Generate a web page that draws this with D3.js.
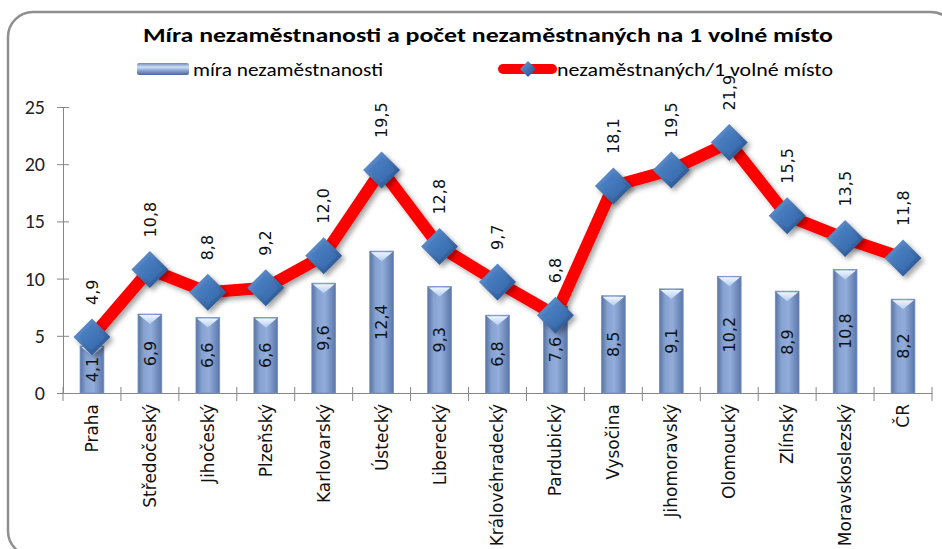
<!DOCTYPE html>
<html>
<head>
<meta charset="utf-8">
<script src="https://cdn.jsdelivr.net/npm/d3@7"></script>
<style>
    body { margin: 0; background: #fff; }
    #chart { width: 942px; height: 549px; }
</style>
</head>
<body>
<div id="chart"></div>
<script>
// data
let regions = ["Praha", "Středočeský", "Jihočeský", "Plzeňský", "Karlovarský", "Ústecký", "Liberecký",
    "Královéhradecký", "Pardubický", "Vysočina", "Jihomoravský", "Olomoucký", "Zlínský", "Moravskoslezský", "ČR"]
let unemploymentRate = [4.1, 6.9, 6.6, 6.6, 9.6, 12.4, 9.3, 6.8, 7.6, 8.5, 9.1, 10.2, 8.9, 10.8, 8.2]
let perVacancy = [4.9, 10.8, 8.8, 9.2, 12.0, 19.5, 12.8, 9.7, 6.8, 18.1, 19.5, 21.9, 15.5, 13.5, 11.8]
let yTicks = [0, 5, 10, 15, 20, 25]

let titleText = "Míra nezaměstnanosti a počet nezaměstnaných na 1 volné místo"
let barName = "míra nezaměstnanosti"
let lineName = "nezaměstnaných/1 volné místo"

let fmt = v => d3.format(".1f")(v).replace(".", ",")

let width = 942, height = 549
let titleFont = "Carlito, 'Liberation Sans Narrow', 'Liberation Sans', sans-serif"
let labelFont = "'DejaVu Sans', Verdana, sans-serif"

let svg = d3.select("#chart").append("svg")
    .attr("width", width)
    .attr("height", height)

let defs = svg.append("defs")

// bar gradient (cylinder look)
let bg = defs.append("linearGradient").attr("id", "barGrad").attr("x1", 0).attr("x2", 1).attr("y1", 0).attr("y2", 0)
bg.append("stop").attr("offset", "0%").attr("stop-color", "#5873a3")
bg.append("stop").attr("offset", "25%").attr("stop-color", "#86a2d1")
bg.append("stop").attr("offset", "55%").attr("stop-color", "#92addb")
bg.append("stop").attr("offset", "100%").attr("stop-color", "#5a76a8")

let topG = defs.append("linearGradient").attr("id", "bevelGrad").attr("x1", 0).attr("x2", 0).attr("y1", 0).attr("y2", 1)
topG.append("stop").attr("offset", "0%").attr("stop-color", "#eef6ff")
topG.append("stop").attr("offset", "100%").attr("stop-color", "#b4ccef")

// legend swatch gradient (horizontal bar)
let lg = defs.append("linearGradient").attr("id", "legGrad").attr("x1", 0).attr("x2", 0).attr("y1", 0).attr("y2", 1)
lg.append("stop").attr("offset", "0%").attr("stop-color", "#6c88b8")
lg.append("stop").attr("offset", "35%").attr("stop-color", "#cfe0f7")
lg.append("stop").attr("offset", "60%").attr("stop-color", "#8ea9d6")
lg.append("stop").attr("offset", "100%").attr("stop-color", "#4c6898")

// diamond gradients
let dg = defs.append("linearGradient").attr("id", "diaOuter").attr("x1", 0).attr("x2", 1).attr("y1", 0).attr("y2", 1)
dg.append("stop").attr("offset", "0%").attr("stop-color", "#6c9ddb")
dg.append("stop").attr("offset", "100%").attr("stop-color", "#1d4a86")
let dg2 = defs.append("linearGradient").attr("id", "diaInner").attr("x1", 0).attr("x2", 1).attr("y1", 0).attr("y2", 1)
dg2.append("stop").attr("offset", "0%").attr("stop-color", "#4f86c9")
dg2.append("stop").attr("offset", "100%").attr("stop-color", "#3366a8")

let shadow = defs.append("filter").attr("id", "shadow").attr("x", "-20%").attr("y", "-20%").attr("width", "150%").attr("height", "150%")
shadow.append("feDropShadow").attr("dx", 3).attr("dy", 3).attr("stdDeviation", 2.5)
    .attr("flood-color", "#000").attr("flood-opacity", 0.35)

// outer frame
svg.append("rect")
    .attr("x", 8).attr("y", 12)
    .attr("width", 948).attr("height", 544)
    .attr("rx", 25).attr("ry", 25)
    .attr("fill", "#fff")
    .attr("stroke", "#8f8f8f")
    .attr("stroke-width", 2.5)

// title
svg.append("text")
    .attr("x", 488).attr("y", 42)
    .attr("text-anchor", "middle")
    .attr("font-family", titleFont)
    .attr("font-weight", "bold")
    .attr("font-size", 20)
    .attr("fill", "#000")
    .attr("textLength", 690)
    .attr("lengthAdjust", "spacingAndGlyphs")
    .text(titleText)

// scales
let x = d3.scaleBand().domain(regions).range([63, 932]).paddingInner(0.59).paddingOuter(0.295)
let y = d3.scaleLinear().domain([0, 25]).range([393, 107])
let step = x.step()
let cx = d => x(d) + x.bandwidth() / 2

// y axis
let yAxis = svg.append("g")
    .attr("transform", "translate(63,0)")
    .call(d3.axisLeft(y).tickValues(yTicks).tickSize(6).tickPadding(12))
yAxis.select(".domain").attr("stroke", "#868686")
yAxis.selectAll(".tick line").attr("stroke", "#868686").attr("x2", 6).attr("x1", -6)
yAxis.selectAll(".tick text")
    .attr("font-family", titleFont)
    .attr("font-size", 20)
    .attr("fill", "#222")

// x axis with ticks between categories
let xAxis = svg.append("g")
    .attr("transform", "translate(0,393)")
    .call(d3.axisBottom(x).tickSize(0).tickFormat(""))
xAxis.select(".domain").attr("stroke", "#868686")
let bounds = d3.range(regions.length + 1).map(i => x.range()[0] + i * step)
xAxis.selectAll(".sep").data(bounds).enter().append("line")
    .attr("class", "sep")
    .attr("x1", d => d).attr("x2", d => d)
    .attr("y1", -6).attr("y2", 8)
    .attr("stroke", "#868686")

// category labels
svg.append("g").selectAll("text")
    .data(regions)
    .enter().append("text")
    .attr("transform", d => `translate(${cx(d)}, 404) rotate(-90)`)
    .attr("dy", "0.35em")
    .attr("text-anchor", "end")
    .attr("font-family", labelFont)
    .attr("font-size", 17)
    .attr("fill", "#111")
    .text(d => d)

// bars
let bars = svg.append("g").selectAll("g.bar")
    .data(regions.map((r, i) => ({region: r, value: unemploymentRate[i]})))
    .enter().append("g").attr("class", "bar")
bars.append("rect")
    .attr("x", d => x(d.region))
    .attr("y", d => y(d.value))
    .attr("width", x.bandwidth())
    .attr("height", d => y(0) - y(d.value))
    .attr("fill", "url(#barGrad)")
    .attr("stroke", "#7490c0")
    .attr("stroke-width", 0.8)
bars.append("path")
    .attr("d", d => {
        let x0 = x(d.region), x1 = x0 + x.bandwidth(), yt = y(d.value)
        return `M${x0 + 1},${yt + 1} L${x1 - 1},${yt + 1} L${(x0 + x1) / 2},${yt + 10} Z`
    })
    .attr("fill", "url(#bevelGrad)")
bars.append("text")
    .attr("transform", d => `translate(${cx(d.region)}, ${(y(d.value) + y(0)) / 2}) rotate(-90)`)
    .attr("dy", "0.35em")
    .attr("text-anchor", "middle")
    .attr("font-family", labelFont)
    .attr("font-size", 16)
    .attr("fill", "#111")
    .text(d => fmt(d.value))

// line
let lineData = regions.map((r, i) => ({region: r, value: perVacancy[i]}))
let line = d3.line().x(d => cx(d.region)).y(d => y(d.value))
svg.append("path")
    .datum(lineData)
    .attr("d", line)
    .attr("fill", "none")
    .attr("stroke", "#ff0000")
    .attr("stroke-width", 12)
    .attr("stroke-linejoin", "round")
    .attr("stroke-linecap", "round")
    .attr("filter", "url(#shadow)")

// diamond markers
let diamond = r => `M0,${-r} L${r},0 L0,${r} L${-r},0 Z`
let markers = svg.append("g").selectAll("g.marker")
    .data(lineData)
    .enter().append("g").attr("class", "marker")
    .attr("transform", d => `translate(${cx(d.region)}, ${y(d.value)})`)
markers.append("path").attr("d", diamond(18.5)).attr("fill", "url(#diaOuter)").attr("filter", "url(#shadow)")
markers.append("path").attr("d", diamond(13)).attr("fill", "url(#diaInner)")

// line value labels
svg.append("g").selectAll("text")
    .data(lineData)
    .enter().append("text")
    .attr("transform", d => `translate(${cx(d.region)}, ${y(d.value) - 32}) rotate(-90)`)
    .attr("dy", "0.35em")
    .attr("text-anchor", "start")
    .attr("font-family", labelFont)
    .attr("font-size", 16)
    .attr("fill", "#111")
    .text(d => fmt(d.value))

// legend
let legend = svg.append("g")
legend.append("rect")
    .attr("x", 137).attr("y", 63).attr("width", 52).attr("height", 12)
    .attr("rx", 2)
    .attr("fill", "url(#legGrad)")
legend.append("text")
    .attr("x", 193).attr("y", 76)
    .attr("font-family", titleFont).attr("font-size", 18)
    .attr("textLength", 190).attr("lengthAdjust", "spacingAndGlyphs")
    .text(barName)
legend.append("line")
    .attr("x1", 503).attr("x2", 552).attr("y1", 69).attr("y2", 69)
    .attr("stroke", "#ff0000").attr("stroke-width", 10).attr("stroke-linecap", "round")
legend.append("path")
    .attr("transform", "translate(528,69)")
    .attr("d", diamond(8))
    .attr("fill", "url(#diaOuter)")
legend.append("text")
    .attr("x", 557).attr("y", 76)
    .attr("font-family", titleFont).attr("font-size", 18)
    .attr("textLength", 276).attr("lengthAdjust", "spacingAndGlyphs")
    .text(lineName)
</script>
</body>
</html>
